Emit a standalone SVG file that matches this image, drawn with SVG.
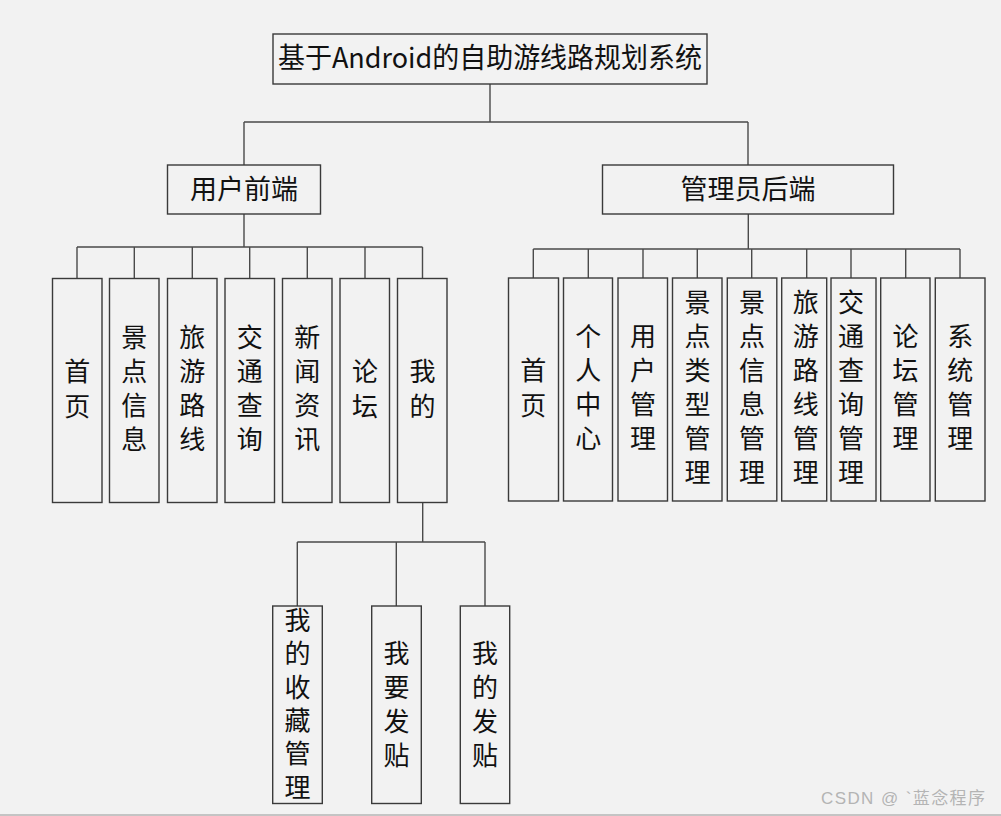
<svg xmlns="http://www.w3.org/2000/svg" width="1001" height="816" viewBox="0 0 1001 816">
<style>
.bg{fill:#f2f2f2}
.box{fill:#f2f2f2;stroke:#3a3a3a;stroke-width:1.4}
.ln{fill:none;stroke:#4a4a4a;stroke-width:1.4}
.t{font-family:"Microsoft YaHei","Noto Sans CJK SC","Noto Sans",sans-serif;fill:#111;text-anchor:middle}
.v{font-size:26px}
.h{font-size:27px}
.wm{font-family:"Liberation Sans","Noto Sans CJK SC",sans-serif;font-size:17px;fill:#b4b4b4}
</style>
<rect class="bg" x="0" y="0" width="1001" height="816"/>
<rect x="0" y="814" width="1001" height="2" fill="#c4c4c4"/>

<g id="connectors">
  <path class="ln" d="M490,84V122M244,122H748M244,122V165M748,122V165"/>
  <path class="ln" d="M244,214V247M77,247H422.5M77,247V278.5M134.3,247V278.5M192.3,247V278.5M249.7,247V278.5M307.3,247V278.5M365,247V278.5M422.5,247V278.5"/>
  <path class="ln" d="M748.3,214V249M533.3,249H960M533.3,249V278M588.3,249V278M643,249V278M697.3,249V278M751.7,249V278M806.7,249V278M851,249V278M905.7,249V278M960,249V278"/>
  <path class="ln" d="M422.7,502.5V542M297.3,542H485M297.3,542V606M396.3,542V606M485,542V606"/>
</g>

<g id="root">
  <rect class="box" x="273" y="34" width="434" height="50"/>
  <text class="t" x="490" y="68" font-size="28" textLength="424" lengthAdjust="spacingAndGlyphs">基于Android的自助游线路规划系统</text>
</g>

<g id="user-front">
  <rect class="box" x="167.5" y="165" width="153" height="49"/>
  <text class="t h" x="244" y="199">用户前端</text>
</g>
<g id="admin-back">
  <rect class="box" x="602.5" y="165" width="291" height="49"/>
  <text class="t h" x="748" y="199">管理员后端</text>
</g>

<!-- left children -->
<g id="u-home">
  <rect class="box" x="52.5" y="278.5" width="49.5" height="224"/>
  <text class="t v" x="77.3" y="380.6">首<tspan x="77.3" dy="35">页</tspan></text>
</g>
<g id="u-scenic">
  <rect class="box" x="109.5" y="278.5" width="49.5" height="224"/>
  <text class="t v" x="134.3" y="346.6">景<tspan x="134.3" dy="34">点</tspan><tspan x="134.3" dy="34">信</tspan><tspan x="134.3" dy="34">息</tspan></text>
</g>
<g id="u-route">
  <rect class="box" x="167.5" y="278.5" width="49.5" height="224"/>
  <text class="t v" x="192.3" y="346.6">旅<tspan x="192.3" dy="34">游</tspan><tspan x="192.3" dy="34">路</tspan><tspan x="192.3" dy="34">线</tspan></text>
</g>
<g id="u-traffic">
  <rect class="box" x="225" y="278.5" width="49.5" height="224"/>
  <text class="t v" x="249.7" y="346.6">交<tspan x="249.7" dy="34">通</tspan><tspan x="249.7" dy="34">查</tspan><tspan x="249.7" dy="34">询</tspan></text>
</g>
<g id="u-news">
  <rect class="box" x="282.5" y="278.5" width="49.5" height="224"/>
  <text class="t v" x="307.3" y="346.6">新<tspan x="307.3" dy="34">闻</tspan><tspan x="307.3" dy="34">资</tspan><tspan x="307.3" dy="34">讯</tspan></text>
</g>
<g id="u-forum">
  <rect class="box" x="340" y="278.5" width="49.5" height="224"/>
  <text class="t v" x="365" y="380.6">论<tspan x="365" dy="35">坛</tspan></text>
</g>
<g id="u-mine">
  <rect class="box" x="397.5" y="278.5" width="49.5" height="224"/>
  <text class="t v" x="422.5" y="380.6">我<tspan x="422.5" dy="35">的</tspan></text>
</g>

<!-- right children -->
<g id="a-home">
  <rect class="box" x="508.5" y="278" width="50" height="223"/>
  <text class="t v" x="533.3" y="379.6">首<tspan x="533.3" dy="35">页</tspan></text>
</g>
<g id="a-center">
  <rect class="box" x="563.5" y="278" width="49" height="223"/>
  <text class="t v" x="588.3" y="345.6">个<tspan x="588.3" dy="34">人</tspan><tspan x="588.3" dy="34">中</tspan><tspan x="588.3" dy="34">心</tspan></text>
</g>
<g id="a-user">
  <rect class="box" x="618" y="278" width="49.5" height="223"/>
  <text class="t v" x="643" y="345.6">用<tspan x="643" dy="34">户</tspan><tspan x="643" dy="34">管</tspan><tspan x="643" dy="34">理</tspan></text>
</g>
<g id="a-scenic-type">
  <rect class="box" x="672.5" y="278" width="49.5" height="223"/>
  <text class="t v" x="697.4" y="311.6">景<tspan x="697.4" dy="34">点</tspan><tspan x="697.4" dy="34">类</tspan><tspan x="697.4" dy="34">型</tspan><tspan x="697.4" dy="34">管</tspan><tspan x="697.4" dy="34">理</tspan></text>
</g>
<g id="a-scenic-info">
  <rect class="box" x="727.3" y="278" width="49.5" height="223"/>
  <text class="t v" x="752" y="311.6">景<tspan x="752" dy="34">点</tspan><tspan x="752" dy="34">信</tspan><tspan x="752" dy="34">息</tspan><tspan x="752" dy="34">管</tspan><tspan x="752" dy="34">理</tspan></text>
</g>
<g id="a-route">
  <rect class="box" x="781.7" y="278" width="45" height="223"/>
  <text class="t v" x="805.8" y="311.6">旅<tspan x="805.8" dy="34">游</tspan><tspan x="805.8" dy="34">路</tspan><tspan x="805.8" dy="34">线</tspan><tspan x="805.8" dy="34">管</tspan><tspan x="805.8" dy="34">理</tspan></text>
</g>
<g id="a-traffic">
  <rect class="box" x="831" y="278" width="45" height="223"/>
  <text class="t v" x="851" y="311.6">交<tspan x="851" dy="34">通</tspan><tspan x="851" dy="34">查</tspan><tspan x="851" dy="34">询</tspan><tspan x="851" dy="34">管</tspan><tspan x="851" dy="34">理</tspan></text>
</g>
<g id="a-forum">
  <rect class="box" x="880.7" y="278" width="49.3" height="223"/>
  <text class="t v" x="905.6" y="345.6">论<tspan x="905.6" dy="34">坛</tspan><tspan x="905.6" dy="34">管</tspan><tspan x="905.6" dy="34">理</tspan></text>
</g>
<g id="a-system">
  <rect class="box" x="935.3" y="278" width="49.7" height="223"/>
  <text class="t v" x="960.2" y="345.6">系<tspan x="960.2" dy="34">统</tspan><tspan x="960.2" dy="34">管</tspan><tspan x="960.2" dy="34">理</tspan></text>
</g>

<!-- bottom children -->
<g id="m-fav">
  <rect class="box" x="272.7" y="606" width="49.6" height="197.5"/>
  <text class="t v" x="297.5" y="629.8">我<tspan x="297.5" dy="33.4">的</tspan><tspan x="297.5" dy="33.4">收</tspan><tspan x="297.5" dy="33.4">藏</tspan><tspan x="297.5" dy="33.4">管</tspan><tspan x="297.5" dy="33.4">理</tspan></text>
</g>
<g id="m-post">
  <rect class="box" x="371.7" y="606" width="49.6" height="197.5"/>
  <text class="t v" x="396.5" y="663">我<tspan x="396.5" dy="33.9">要</tspan><tspan x="396.5" dy="33.9">发</tspan><tspan x="396.5" dy="33.9">贴</tspan></text>
</g>
<g id="m-myposts">
  <rect class="box" x="460.3" y="606" width="49.4" height="197.5"/>
  <text class="t v" x="485" y="663">我<tspan x="485" dy="33.9">的</tspan><tspan x="485" dy="33.9">发</tspan><tspan x="485" dy="33.9">贴</tspan></text>
</g>

<text class="wm" x="821" y="804" textLength="164" lengthAdjust="spacing">CSDN @ `蓝念程序</text>
</svg>
